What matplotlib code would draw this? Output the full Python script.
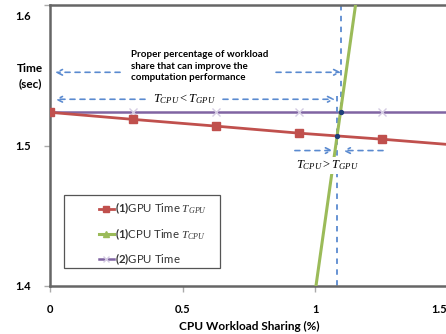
import numpy as np
import matplotlib
matplotlib.use("Agg")
import matplotlib.pyplot as plt
from matplotlib.patches import Rectangle
from matplotlib.transforms import ScaledTranslation

plt.rcParams['font.family'] = ['Lato', 'DejaVu Sans']
plt.rcParams['mathtext.fontset'] = 'custom'
plt.rcParams['mathtext.rm'] = 'Liberation Serif'
plt.rcParams['mathtext.it'] = 'Liberation Serif:italic'
plt.rcParams['mathtext.bf'] = 'Lato:bold'

# datos
share = [0.0, 0.3125, 0.625, 0.9375, 1.25, 1.5625]
gpu1 = [1.5236, 1.5186, 1.5138, 1.5088, 1.5045, 1.4998]
cpu_share = [0.0, 0.3125, 0.625, 0.9375, 1.25]
cpu1 = [0.0, 0.44, 0.88, 1.313, 1.732]
gpu2 = [1.5236, 1.5236, 1.5236, 1.5236, 1.5236, 1.5236]

# cruces aproximados y limites de las zonas
cross_hi = 1.096   # CPU = GPU(2)
cross_lo = 1.083   # CPU = GPU(1)
y_row1, y_row2, y_row3 = 1.5521, 1.5329, 1.4964

fig = plt.figure(figsize=(4.46, 3.34), dpi=100)
ax = fig.add_axes([50/446, 48/334, 398/446, 281/334])

blue = '#5A8AD0'
ax.plot(share, gpu1, color='#C0504D', lw=2, marker='s', ms=6,
        label=r'$\mathbf{(1)}$GPU Time $T_{GPU}$', zorder=3)
ax.plot(cpu_share, cpu1, color='#9BBB59', lw=2.2, marker='^', ms=6,
        label=r'$\mathbf{(1)}$CPU Time $T_{CPU}$', zorder=3)
ax.plot(share, gpu2, color='#8064A2', lw=1.8, marker='x', ms=6,
        mec='#D5CCE3', mew=1, label=r'$\mathbf{(2)}$GPU Time', zorder=2)

# lineas verticales punteadas
ax.plot([cross_hi, cross_hi], [1.6, 1.522], ls='--', color=blue, lw=1.3, dashes=(3, 3))
ax.plot([cross_lo, cross_lo], [1.535, 1.4], ls='--', color=blue, lw=1.3, dashes=(3, 3))
ax.scatter([cross_hi, cross_lo], [1.5236, 1.5068], s=8, color='#1F3F7A', zorder=4)

# flechas
arr = dict(arrowstyle='->', color=blue, lw=1.2, ls=(0, (3, 3)), shrinkA=0, shrinkB=0)
ax.annotate('', xy=(0.019, y_row1), xytext=(0.264, y_row1), arrowprops=arr)
ax.annotate('', xy=(1.097, y_row1), xytext=(0.852, y_row1), arrowprops=arr)
ax.annotate('', xy=(0.019, y_row2), xytext=(0.358, y_row2), arrowprops=arr)
ax.annotate('', xy=(1.074, y_row2), xytext=(0.652, y_row2), arrowprops=arr)
ax.annotate('', xy=(1.066, y_row3), xytext=(0.923, y_row3), arrowprops=arr)
ax.annotate('', xy=(1.104, y_row3), xytext=(1.255, y_row3), arrowprops=arr)

ax.text(0.305, 1.5564, 'Proper percentage of workload\nshare that can improve the\ncomputation performance',
        fontsize=7, fontweight='bold', ha='left', va='center', linespacing=1.35)
ax.text(0.508, y_row2, r'$T_{CPU} < T_{GPU}$', fontsize=9, ha='center', va='center',
        bbox=dict(fc='white', ec='none', pad=1))
ax.text(1.044, 1.4857, r'$T_{CPU} > T_{GPU}$', fontsize=9, ha='center', va='center',
        bbox=dict(fc='white', ec='none', pad=1), zorder=5)

ax.set_xlim(0, 1.5)
ax.set_ylim(1.4, 1.6)
ax.set_xticks([0, 0.5, 1, 1.5])
ax.set_xticklabels(['0', '0.5', '1', '1.5'])
ax.set_yticks([1.4, 1.5, 1.6])
ax.set_yticklabels(['1.4', '1.5', '1.6'])
for lab in ax.get_xticklabels() + ax.get_yticklabels():
    lab.set_fontweight('bold')
    lab.set_fontsize(8)
ax.tick_params(axis='both', length=4, width=1, color='#aaaaaa', pad=9)
ax.tick_params(axis='y', pad=10)
for s in ax.spines.values():
    s.set_color('#666666')
    s.set_linewidth(1.8)

# etiqueta 1.6 algo mas abajo, 1.5 del eje x algo a la izquierda
lab16 = ax.get_yticklabels()[-1]
lab16.set_transform(lab16.get_transform() + ScaledTranslation(0, -10/100, fig.dpi_scale_trans))
labx15 = ax.get_xticklabels()[-1]
labx15.set_transform(labx15.get_transform() + ScaledTranslation(-9/100, 0, fig.dpi_scale_trans))

ax.set_xlabel('CPU Workload Sharing (%)', fontsize=8.5, fontweight='bold', labelpad=4)
fig.text(30/446, 1 - 76/334, 'Time\n(sec)', fontsize=8.5, fontweight='bold',
         ha='center', va='center', linespacing=1.4)

# leyenda con marco
ax.add_patch(Rectangle((0.035, 0.064), 0.392, 0.26, transform=ax.transAxes,
                       fill=False, ec='#555555', lw=0.9, zorder=5))
leg = ax.legend(loc='upper left', bbox_to_anchor=(0.1, 0.336), frameon=False,
                fontsize=8.2, handlelength=1.3, handletextpad=0.1, labelspacing=0.85,
                borderpad=0.3, markerscale=0.8)
for t in leg.get_texts():
    t.set_color('#333333')

fig.savefig('out.png', dpi=100)
